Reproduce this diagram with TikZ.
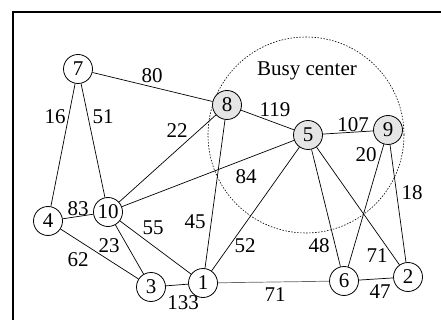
\documentclass[tikz,border=0pt]{standalone}
\usepackage{fontspec}
\setmainfont{Liberation Serif}
\begin{document}
\begin{tikzpicture}[x=1pt,y=-1pt,
  vtx/.style={circle,draw,line width=0.8pt,minimum size=29pt,inner sep=0pt,font=\fontsize{21}{22}\selectfont},
  busy/.style={vtx,fill=gray!20},
  edge/.style={line width=0.7pt},
  lbl/.style={font=\fontsize{21}{22}\selectfont,inner sep=0pt},
  frame/.style={line width=1.2pt}]
\useasboundingbox (0,0) rectangle (441,320);
\coordinate (fa) at (13,12);
\coordinate (fb) at (441,12);
\coordinate (fc) at (13,320);
\draw[frame] (fb) -- (fa) -- (fc);
% busy center region
\node[circle,draw,dash pattern=on 1.5pt off 1.5pt,line width=0.6pt,minimum size=196pt,inner sep=0pt] (bc) at (306,135) {};
\node[lbl] (bct) at (307,71) {Busy center};
% vertices
\node[vtx] (n7) at (78,69) {7};
\node[busy] (n8) at (227,105) {8};
\node[busy] (n5) at (308,135) {5};
\node[busy] (n9) at (388,130) {9};
\node[vtx] (n4) at (48,221) {4};
\node[vtx] (n10) at (108,212) {10};
\node[vtx] (n3) at (151,287) {3};
\node[vtx] (n1) at (203,283) {1};
\node[vtx] (n6) at (344,281) {6};
\node[vtx] (n2) at (408,277) {2};
% edges
\draw[edge] (n7) -- (n8);
\draw[edge] (n7) -- (n4);
\draw[edge] (n7) -- (n10);
\draw[edge] (n10) -- (n8);
\draw[edge] (n8) -- (n5);
\draw[edge] (n5) -- (n9);
\draw[edge] (n10) -- (n5);
\draw[edge] (n8) -- (n1);
\draw[edge] (n4) -- (n10);
\draw[edge] (n4) -- (n3);
\draw[edge] (n10) -- (n3);
\draw[edge] (n10) -- (n1);
\draw[edge] (n3) -- (n1);
\draw[edge] (n1) -- (n5);
\draw[edge] (n5) -- (n6);
\draw[edge] (n5) -- (n2);
\draw[edge] (n9) -- (n6);
\draw[edge] (n9) -- (n2);
\draw[edge,draw=black!60] (n1) -- (n6);
\draw[edge] (n6) -- (n2);
% labels
\node[lbl] (l80) at (152,76) {80};
\node[lbl] (l16) at (55,117) {16};
\node[lbl] (l51) at (103,117) {51};
\node[lbl] (l22) at (177,131) {22};
\node[lbl] (l119) at (275,110) {119};
\node[lbl] (l107) at (353,125) {107};
\node[lbl] (l20) at (366,155) {20};
\node[lbl] (l18) at (412,193) {18};
\node[lbl] (l84) at (246,177) {84};
\node[lbl] (l83) at (78,209) {83};
\node[lbl] (l55) at (153,228) {55};
\node[lbl] (l45) at (195,222) {45};
\node[lbl] (l23) at (109,246) {23};
\node[lbl] (l62) at (78,260) {62};
\node[lbl] (l133) at (183,303) {133};
\node[lbl] (l52) at (245,246) {52};
\node[lbl] (l48) at (319,246) {48};
\node[lbl] (l71a) at (377,256) {71};
\node[lbl] (l71b) at (275,295) {71};
\node[lbl] (l47) at (380,292) {47};
\end{tikzpicture}
\end{document}
